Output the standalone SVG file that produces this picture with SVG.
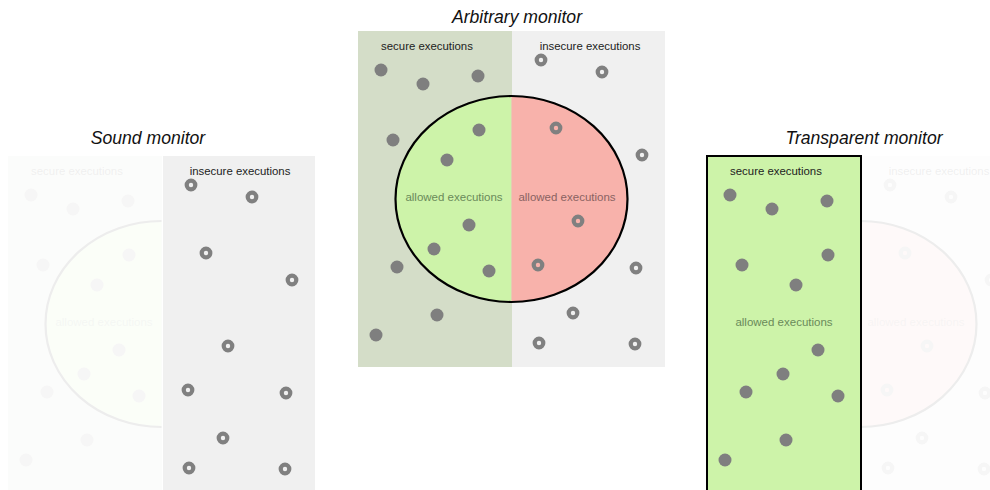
<svg xmlns="http://www.w3.org/2000/svg" xmlns:xlink="http://www.w3.org/1999/xlink" width="990" height="490" viewBox="0 0 990 490">
<style>
  .title { font-family: "Liberation Sans", Arial, sans-serif; font-style: italic; font-size: 17.6px; fill: #111; text-anchor: middle; }
  .lbl { font-family: "Liberation Sans", Arial, sans-serif; font-size: 11.4px; fill: #222; text-anchor: middle; }
  .allowG { font-family: "Liberation Sans", Arial, sans-serif; font-size: 11.5px; fill: #6a8a5a; text-anchor: middle; }
  .allowR { font-family: "Liberation Sans", Arial, sans-serif; font-size: 11.5px; fill: #8a6262; text-anchor: middle; }
  .dot { fill: #7f7f7f; }
  .ring { fill: none; stroke: #808080; stroke-width: 4.2; }
  .secBg { fill: #d4ddc8; }
  .insBg { fill: #f0f0f0; }
  .green { fill: #cdf3a9; }
  .red { fill: #f8b2ab; }
  .outline { fill: none; stroke: #000; stroke-width: 2.2; }
  .faded { opacity: 0.065; }
</style>
<defs>
  <g id="secDots">
    <circle class="dot" cx="381" cy="70" r="6.5"/>
    <circle class="dot" cx="423" cy="84" r="6.5"/>
    <circle class="dot" cx="478" cy="76" r="6.5"/>
    <circle class="dot" cx="393" cy="140" r="6.5"/>
    <circle class="dot" cx="479" cy="130" r="6.5"/>
    <circle class="dot" cx="447" cy="160" r="6.5"/>
    <circle class="dot" cx="469" cy="225" r="6.5"/>
    <circle class="dot" cx="434" cy="249" r="6.5"/>
    <circle class="dot" cx="397" cy="267" r="6.5"/>
    <circle class="dot" cx="489" cy="271" r="6.5"/>
    <circle class="dot" cx="437" cy="315" r="6.5"/>
    <circle class="dot" cx="376" cy="335" r="6.5"/>
  </g>
  <g id="insRings">
    <circle class="ring" cx="541" cy="60" r="4.3"/>
    <circle class="ring" cx="602" cy="72" r="4.3"/>
    <circle class="ring" cx="556" cy="128" r="4.3"/>
    <circle class="ring" cx="642" cy="155" r="4.3"/>
    <circle class="ring" cx="578" cy="221" r="4.3"/>
    <circle class="ring" cx="538" cy="265" r="4.3"/>
    <circle class="ring" cx="636" cy="268" r="4.3"/>
    <circle class="ring" cx="573" cy="313" r="4.3"/>
    <circle class="ring" cx="539" cy="343" r="4.3"/>
    <circle class="ring" cx="635" cy="344" r="4.3"/>
  </g>
  <path id="ellL" d="M511.5,96 A116,103 0 0 0 511.5,302 Z"/>
  <path id="ellR" d="M511.5,96 A116,103 0 0 1 511.5,302 Z"/>
  <path id="arcL" d="M511.5,96 A116,103 0 0 0 511.5,302"/>
  <path id="arcR" d="M511.5,96 A116,103 0 0 1 511.5,302"/>
</defs>

<g id="sound-monitor">
  <text class="title" x="148" y="144">Sound monitor</text>
  <g transform="translate(-350,125)">
    <g class="faded">
      <rect class="secBg" x="358" y="31" width="154" height="336"/>
      <use xlink:href="#ellL" class="green"/>
      <use xlink:href="#arcL" class="outline"/>
      <use xlink:href="#secDots"/>
      <text class="lbl" x="427" y="50">secure executions</text>
      <text class="allowG" x="454" y="201">allowed executions</text>
    </g>
    <rect class="insBg" x="513" y="31" width="152" height="336"/>
    <use xlink:href="#insRings"/>
    <text class="lbl" x="590" y="50">insecure executions</text>
  </g>
</g>

<g id="arbitrary-monitor">
  <text class="title" x="517" y="23">Arbitrary monitor</text>
  <rect class="secBg" x="358" y="31" width="154" height="336"/>
  <rect class="insBg" x="512" y="31" width="153" height="336"/>
  <use xlink:href="#ellL" class="green"/>
  <use xlink:href="#ellR" class="red"/>
  <ellipse class="outline" cx="511.5" cy="199" rx="116" ry="103"/>
  <use xlink:href="#secDots"/>
  <use xlink:href="#insRings"/>
  <text class="lbl" x="427" y="50">secure executions</text>
  <text class="lbl" x="590" y="50">insecure executions</text>
  <text class="allowG" x="454" y="201">allowed executions</text>
  <text class="allowR" x="567" y="201">allowed executions</text>
</g>

<g id="transparent-monitor">
  <text class="title" x="864" y="144">Transparent monitor</text>
  <g transform="translate(349,125)">
    <g class="faded">
      <rect class="insBg" x="512" y="31" width="153" height="336"/>
      <use xlink:href="#ellR" class="red"/>
      <use xlink:href="#arcR" class="outline"/>
      <use xlink:href="#insRings"/>
      <text class="lbl" x="590" y="50">insecure executions</text>
      <text class="allowR" x="567" y="201">allowed executions</text>
    </g>
    <rect class="green" x="358" y="31" width="154" height="340" stroke="#000" stroke-width="2"/>
    <use xlink:href="#secDots"/>
    <text class="lbl" x="427" y="50">secure executions</text>
    <text class="allowG" x="435" y="201">allowed executions</text>
  </g>
</g>
</svg>
